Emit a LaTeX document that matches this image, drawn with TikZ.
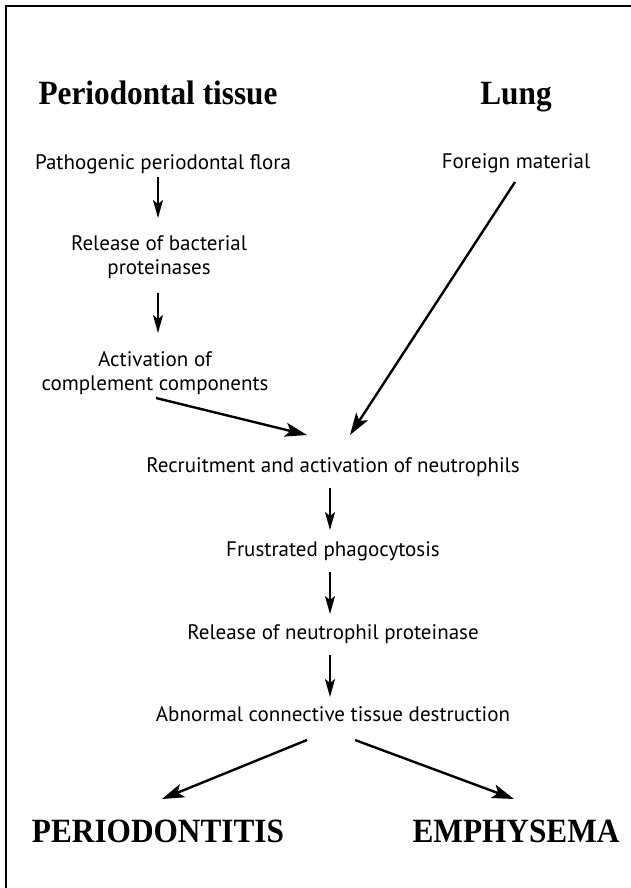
\documentclass[tikz,border=0pt]{standalone}
\usepackage{fontspec}
\setmainfont{PT Sans}
\newfontfamily\headfont[FakeStretch=0.92]{Liberation Serif}
\usetikzlibrary{arrows.meta,calc}
\begin{document}
\begin{tikzpicture}[x=1pt,y=-1pt,
  txt/.style={font=\fontsize{21}{24}\selectfont, inner sep=0pt, anchor=base, align=center},
  headtxt/.style={font=\headfont\bfseries\fontsize{34}{40}\selectfont, inner sep=0pt, anchor=base},
  varr/.style={line width=1.3pt, -{Stealth[length=18pt,width=10pt,inset=4pt]}},
  darr/.style={line width=2.4pt, -{Stealth[length=22pt,width=14pt,inset=5pt]}},
  frame/.style={line width=1.2pt}
]
\useasboundingbox (0,0) rectangle (631,888);
\draw[frame] (6,888) -- (6,6) -- (631,6);

\node[headtxt] (hperi) at (158,105) {Periodontal tissue};
\node[headtxt] (hlung) at (516,105) {Lung};
\node[txt] (flora) at (163,169) {Pathogenic periodontal flora};
\node[txt] (foreign) at (516,168) {Foreign material};
\node[txt] (bact) at (159,274) {Release of bacterial\\proteinases};
\node[txt] (compl) at (155,390) {Activation of\\complement components};
\node[txt] (recruit) at (333,472) {Recruitment and activation of neutrophils};
\node[txt] (frust) at (333,556) {Frustrated phagocytosis};
\node[txt] (neutro) at (333,639) {Release of neutrophil proteinase};
\node[txt] (abnorm) at (333,721) {Abnormal connective tissue destruction};
\node[headtxt] (perio) at (158,842) {PERIODONTITIS};
\node[headtxt] (emph) at (516,842) {EMPHYSEMA};

\draw[varr] ($(flora.base)+(-5,8)$) -- ($(bact.base)+(-1,-56)$);
\draw[varr] ($(bact.base)+(-1,19)$) -- ($(compl.base)+(3,-57)$);
\draw[darr] ($(compl.base)+(1,8)$) -- ($(recruit.base)+(-26,-37)$);
\draw[darr] ($(foreign.base)+(-1,14)$) -- ($(recruit.base)+(17,-37)$);
\draw[varr] ($(recruit.base)+(-3,16)$) -- ($(frust.base)+(-3,-26)$);
\draw[varr] ($(frust.base)+(-3,16)$) -- ($(neutro.base)+(-3,-25)$);
\draw[varr] ($(neutro.base)+(-3,16)$) -- ($(abnorm.base)+(-3,-24)$);
\draw[darr] ($(abnorm.base)+(-26,19)$) -- ($(perio.base)+(4,-43)$);
\draw[darr] ($(abnorm.base)+(22,19)$) -- ($(emph.base)+(-2,-43)$);
\end{tikzpicture}
\end{document}
